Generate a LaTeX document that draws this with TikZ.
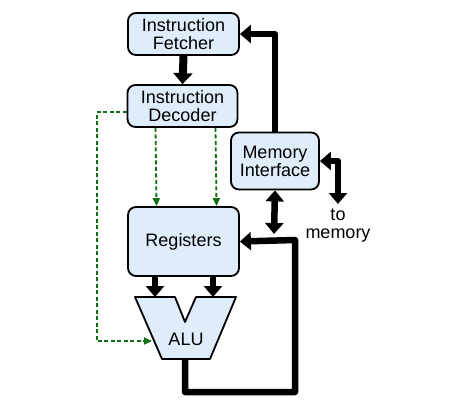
\documentclass[tikz,border=0pt]{standalone}
\usepackage{fontspec}
\setmainfont{Liberation Sans}
\usetikzlibrary{arrows.meta}
\definecolor{boxfill}{RGB}{223,236,250}
\definecolor{ctlgreen}{RGB}{18,110,18}
\begin{document}
\begin{tikzpicture}[x=1pt,y=-1pt,line join=round,
        unit/.style={rectangle,rounded corners=8pt,draw=black,line width=1.8pt,fill=boxfill,
            align=center,inner sep=0pt,font=\fontsize{18}{18}\selectfont},
        bus/.style={line width=6.5pt,-{Triangle[width=18pt,length=11pt]}},
        ctl/.style={ctlgreen,line width=1.8pt,dash pattern=on 4pt off 2.5pt,-{Triangle[width=7pt,length=8pt]}}]
    \useasboundingbox[fill=white] (0,0) rectangle (474,416);

    \node[unit,minimum width=111pt,minimum height=42pt] at (183.5,34) (fetch) {Instruction\\Fetcher};
    \node[unit,minimum width=110pt,minimum height=42pt] at (182.5,106) (decode) {Instruction\\Decoder};
    \node[unit,minimum width=88pt,minimum height=57pt] at (275,161) (mem) {Memory\\Interface};
    \node[unit,minimum width=111pt,minimum height=69pt] at (183.5,241.5) (regs) {Registers};

    % ALU
    \draw[draw=black,line width=1.8pt,fill=boxfill]
        (135,297) -- (175,297) -- (185,322) -- (196,297) -- (236,297)
        -- (210,359) -- (162,359) -- cycle;
    \node[font=\fontsize{18}{18}\selectfont] at (186,339) (alu) {ALU};
    \coordinate (aluinA) at (155,297);
    \coordinate (aluinB) at (213,297);
    \coordinate (aluout) at (185,359);
    \coordinate (aluleft) at (152,341);
    \coordinate (tomem) at (338,204);
    \coordinate (membus) at (274,234);

    \node[font=\fontsize{18}{18}\selectfont,align=center] at (338,226) (tomemtext) {to\\memory};

    \draw[bus,line width=8pt,-{Triangle[width=19pt,length=11pt]}] (fetch.south) -- (decode.north);
    \draw[bus] (mem.north) |- (fetch.east);
    \draw[bus,{Triangle[width=18pt,length=11pt]}-{Triangle[width=18pt,length=11pt]}] (tomem) |- (mem.east);
    \draw[bus,{Triangle[width=18pt,length=11pt]}-{Triangle[width=18pt,length=11pt]}] (mem.south) -- (membus);
    \draw[bus] (regs.south -| aluinA) -- (aluinA);
    \draw[bus] (regs.south -| aluinB) -- (aluinB);
    \draw[bus,-{Triangle[width=18pt,length=11pt]}] (aluout) -- ++(0,33) -| ++(110,-152) -- (regs.east);

    \draw[ctl] ([yshift=-6pt]decode.west) -- ++(-30,0) |- (aluleft);
    \draw[ctl] ([xshift=-27pt]decode.south) -- ([xshift=-27pt]regs.north);
    \draw[ctl] ([xshift=33pt]decode.south) -- ([xshift=33pt]regs.north);
\end{tikzpicture}
\end{document}
